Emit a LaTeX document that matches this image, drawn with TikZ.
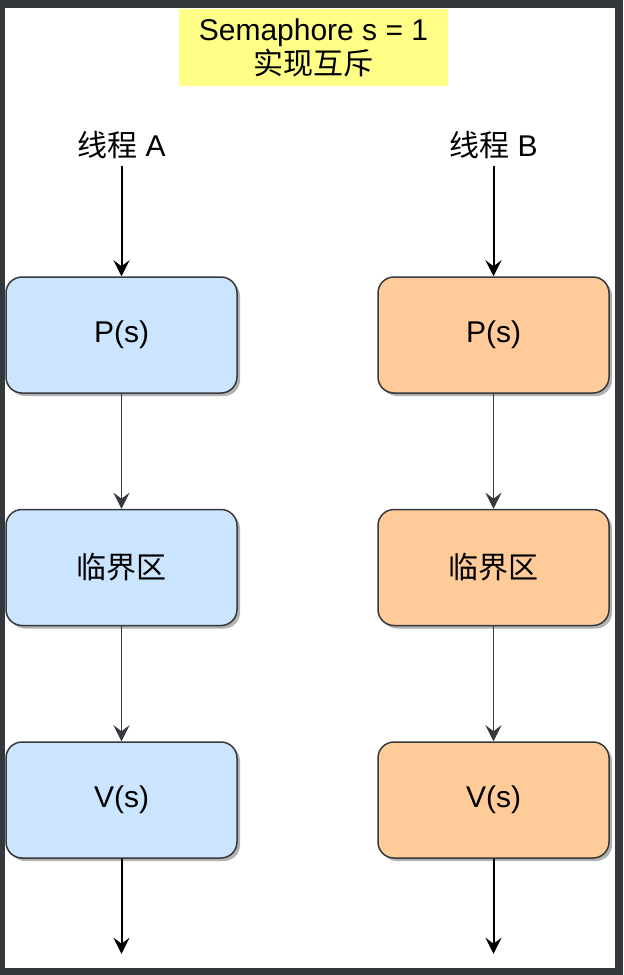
\documentclass[tikz,border=0pt]{standalone}
\usepackage{fontspec}
\setmainfont{Liberation Sans}
\newfontfamily\cjk{Noto Sans CJK SC}
\usetikzlibrary{arrows.meta,positioning,shadows}
\definecolor{frame}{HTML}{34383C}
\definecolor{edge}{HTML}{36393D}
\definecolor{note}{HTML}{FFFF88}
\definecolor{blueA}{HTML}{CCE5FF}
\definecolor{orangeB}{HTML}{FFCC99}

\begin{document}
\begin{tikzpicture}[x=0.5pt, y=-0.5pt, every node/.style={font=\fontsize{15}{17}\selectfont,align=center}, p/.style={draw=edge,line width=0.75pt,rounded corners=8pt,minimum width=115.5pt,minimum height=58pt,drop shadow={shadow xshift=1.5pt,shadow yshift=-1.5pt,fill=black,opacity=0.3}}, pa/.style={p,fill=blueA}, pb/.style={p,fill=orangeB}, a/.style={-{Stealth[length=8pt,width=8pt,inset=3pt]},line width=1pt,draw=black}, ai/.style={a,line width=0.75pt,draw=edge}]
% frame
\fill[frame] (0,0) rectangle (623,975);
\fill[white] (5,8) rectangle (615,968);
\node[fill=note,minimum width=134.5pt,minimum height=38.5pt,inner sep=0pt] (title) at (313.5,47.5) {Semaphore s = 1\\{\cjk 实现互斥}};
% thread A
\node (tA) at (121.5,145) {{\cjk 线程} A};
\node[pa] (pA) at (121.5,335) {P(s)};
\node[pa,below=57.5pt of pA] (csA) {{\cjk 临界区}};
\node[pa,below=57.5pt of csA] (vA) {V(s)};
\coordinate[below=47.5pt of vA] (endA);
% thread B
\node (tB) at (493.5,145) {{\cjk 线程} B};
\node[pb] (pB) at (493.5,335) {P(s)};
\node[pb,below=57.5pt of pB] (csB) {{\cjk 临界区}};
\node[pb,below=57.5pt of csB] (vB) {V(s)};
\coordinate[below=47.5pt of vB] (endB);
\draw[a] (tA)--(pA);\draw[ai] (pA)--(csA);\draw[ai] (csA)--(vA);\draw[a] (vA)--(endA);
\draw[a] (tB)--(pB);\draw[ai] (pB)--(csB);\draw[ai] (csB)--(vB);\draw[a] (vB)--(endB);
\end{tikzpicture}
\end{document}
